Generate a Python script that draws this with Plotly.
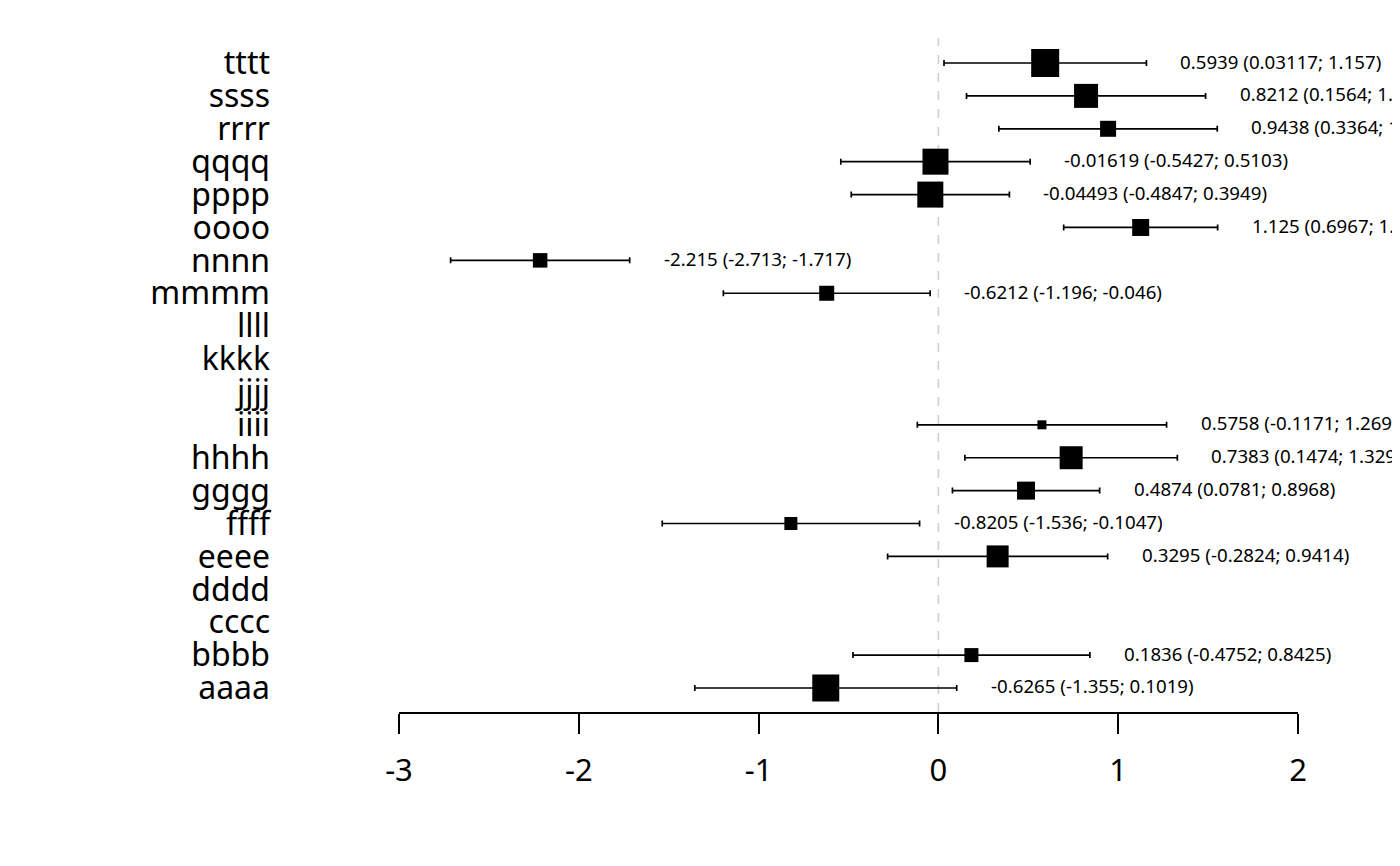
import plotly.graph_objects as go

# rows from bottom to top
labels = ['aaaa', 'bbbb', 'cccc', 'dddd', 'eeee', 'ffff', 'gggg', 'hhhh', 'iiii', 'jjjj',
          'kkkk', 'llll', 'mmmm', 'nnnn', 'oooo', 'pppp', 'qqqq', 'rrrr', 'ssss', 'tttt']

# studies with an estimate (None = no estimate)
est = [-0.6265, 0.1836, None, None, 0.3295, -0.8205, 0.4874, 0.7383, 0.5758, None,
       None, None, -0.6212, -2.215, 1.125, -0.04493, -0.01619, 0.9438, 0.8212, 0.5939]
lower = [-1.355, -0.4752, None, None, -0.2824, -1.536, 0.0781, 0.1474, -0.1171, None,
         None, None, -1.196, -2.713, 0.6967, -0.4847, -0.5427, 0.3364, 0.1564, 0.03117]
upper = [0.1019, 0.8425, None, None, 0.9414, -0.1047, 0.8968, 1.329, 1.269, None,
         None, None, -0.046, -1.717, 1.553, 0.3949, 0.5103, 1.551, 1.486, 1.157]
weight = [27, 14, None, None, 22, 13, 18, 23, 9, None,
          None, None, 15, 14.5, 17, 26, 26, 16, 24, 28]
est_txt = ['-0.6265', '0.1836', '', '', '0.3295', '-0.8205', '0.4874', '0.7383', '0.5758', '',
           '', '', '-0.6212', '-2.215', '1.125', '-0.04493', '-0.01619', '0.9438', '0.8212', '0.5939']
low_txt = ['-1.355', '-0.4752', '', '', '-0.2824', '-1.536', '0.0781', '0.1474', '-0.1171', '',
           '', '', '-1.196', '-2.713', '0.6967', '-0.4847', '-0.5427', '0.3364', '0.1564', '0.03117']
up_txt = ['0.1019', '0.8425', '', '', '0.9414', '-0.1047', '0.8968', '1.329', '1.269', '',
          '', '', '-0.046', '-1.717', '1.553', '0.3949', '0.5103', '1.551', '1.486', '1.157']

xticks = [-3, -2, -1, 0, 1, 2]
xtick_txt = ['-3', '-2', '-1', '0', '1', '2']

ys, xs, lo, hi, sz = [], [], [], [], []
for i, e in enumerate(est):
    if e is None:
        continue
    ys.append(i + 1)
    xs.append(e)
    lo.append(e - lower[i])
    hi.append(upper[i] - e)
    sz.append(weight[i])

fig = go.Figure()
fig.add_trace(go.Scatter(
    x=xs, y=ys, mode='markers',
    marker=dict(symbol='square', size=sz, color='black', opacity=1, line=dict(width=0)),
    error_x=dict(type='data', symmetric=False, array=hi, arrayminus=lo,
                 color='black', thickness=1.7, width=3),
    showlegend=False, hoverinfo='skip',
))

for i, e in enumerate(est):
    if e is None:
        continue
    fig.add_annotation(
        x=upper[i], y=i + 1, xref='x', yref='y',
        text='%s (%s; %s)' % (est_txt[i], low_txt[i], up_txt[i]),
        showarrow=False, xanchor='left', xshift=32, yshift=2,
        font=dict(size=18.7, color='black'),
    )

fig.add_shape(type='line', x0=0, x1=0, y0=0, y1=1, xref='x', yref='paper',
              line=dict(color='#d0d0d0', width=1.6, dash='dash'), layer='below')

fig.update_layout(
    width=1400, height=866,
    margin=dict(l=391, r=110, t=30, b=162),
    plot_bgcolor='white', paper_bgcolor='white',
    font=dict(family='Noto Sans, Open Sans, sans-serif', color='black'),
    xaxis=dict(range=[-3, 2], tickvals=xticks, ticktext=xtick_txt,
               showgrid=False, zeroline=False,
               showline=True, linecolor='black', linewidth=1.6,
               ticks='outside', ticklen=20, tickwidth=1.6, tickcolor='black',
               tickfont=dict(size=31), ticklabelstandoff=10),
    yaxis=dict(range=[0.27, 20.76], tickvals=list(range(1, 21)), ticktext=labels,
               showgrid=False, zeroline=False, showline=False, ticks='',
               tickfont=dict(size=32), ticklabelstandoff=128),
)

fig.write_html('out.html')
